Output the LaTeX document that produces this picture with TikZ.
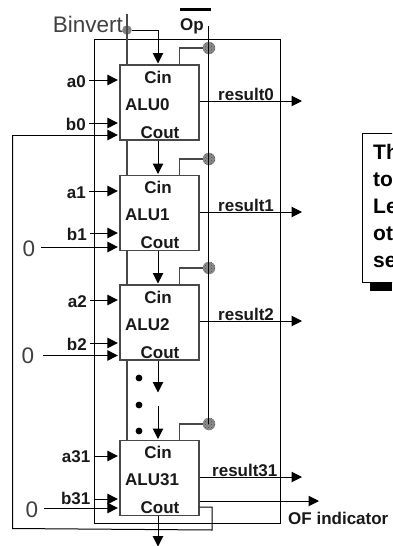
\documentclass[tikz,border=0pt]{standalone}
\usepackage{fontspec}
\setmainfont{Liberation Sans}
\usetikzlibrary{arrows.meta,patterns}
\definecolor{wire}{HTML}{484848}
\tikzset{
  alubox/.style={draw=wire,line width=1.3pt,fill=none,minimum width=79pt,minimum height=75pt,inner sep=0pt},
  boldlab/.style={font=\fontsize{17}{18}\selectfont\bfseries,text=black!90,inner sep=0pt,anchor=base},
  leftlab/.style={boldlab,anchor=base east},
  biglab/.style={font=\fontsize{22.5}{24}\selectfont,text=black!75,inner sep=0pt,anchor=base},
  arr/.style={-{Triangle[length=10.5pt,width=10.5pt]},line width=1pt,shorten >=1.5pt},
  bus/.style={wire,line width=1.5pt},
  taplink/.style={wire,line width=1.1pt},
  tap/.style={circle,fill=black!45,minimum size=12.5pt,inner sep=0pt,postaction={pattern=crosshatch dots,pattern color=black!70}},
  note/.style={font=\fontsize{21}{23}\selectfont\bfseries,inner sep=0pt,anchor=base west}
}
\begin{document}
\begin{tikzpicture}[x=1pt,y=-1pt]
\useasboundingbox (0,0) rectangle (392,546);
\clip (0,0) rectangle (392,546);
% outer box
\node[draw=black,line width=1pt,minimum width=186pt,minimum height=484.5pt,inner sep=0pt] (outer) at (187,281.25) {};
% ALUs
\node[alubox] (alu0) at (159.5,102.5) {};
\node[alubox] (alu1) at (159.5,213) {};
\node[alubox] (alu2) at (159.5,322.5) {};
\node[alubox] (alu31) at (159.5,478) {};
\foreach \n/\t/\l in {0/65/ALU0,1/175.5/ALU1,2/285/ALU2,31/440.5/ALU31}{
  \node[boldlab] (cin\n) at (158,\t+18) {Cin};
  \node[boldlab,anchor=base west] (name\n) at (125,\t+45) {\l};
  \node[boldlab] (cout\n) at (160,\t+73) {Cout};
}
% Binvert and Op
\node[biglab,anchor=base east] (binv) at (123,32) {Binvert};
\coordinate (binvtop) at (127,14);
\node[circle,fill=black!50,minimum size=9.5pt,inner sep=0pt] (bdot) at (127,30) {};
\node[boldlab] (op) at (192,30) {Op};
\coordinate (barl) at (180,9.5);
\coordinate (barr) at (211,9.5);
\draw[line width=2.4pt] (barl) -- (barr);
\coordinate (optop) at (208,26);
\node[tap] (tap0) at (209,48) {};
\node[tap] (tap1) at (209,159) {};
\node[tap] (tap2) at (209,268) {};
\node[tap] (tap31) at (209,424) {};
\draw[line width=1pt] (optop) -- (208,424);
\foreach \n in {0,1,2,31}{
  \draw[taplink] (tap\n.west) -| (alu\n.north -| 179.5,0);
}
% vertical bus
\draw[bus] (binvtop) -- (alu0.north -| binvtop);
\draw[bus] (alu0.south -| binvtop) -- (alu1.north -| binvtop);
\draw[bus] (alu1.south -| binvtop) -- (alu2.north -| binvtop);
\draw[bus] (alu2.south -| binvtop) -- (alu31.north -| binvtop);
% carry
\coordinate (c0) at (158,65);
\draw[arr] (bdot.east) -| (c0);
\draw[arr] (158,141) -- (158,175.5);
\draw[arr] (158,251) -- (158,285);
\coordinate (gapa) at (158,361);
\coordinate (gapb) at (158,394);
\coordinate (gapc) at (158,406);
\draw[arr] (gapa) -- (gapb);
\draw[arr] (gapc) -- (158,440.5);
\coordinate (bottom) at (158,546.5);
\draw[arr,shorten >=0pt] (158,515.5) -- (bottom);
\foreach \y in {378,405,431} \fill (139,\y) circle (3.4pt);
% inputs
\foreach \n/\lab/\nm/\xx/\yy/\by in {
  0/a0/a0/86/80/87, 0/b0/b0/86/123/130,
  1/a1/a1/86/191/198, 1/b1/b1/87/233/240,
  2/a2/a2/87/300/307, 2/b2/b2/87/343/350,
  31/a31/a31/90.5/456/462, 31/b31/b31/90.5/499/504}{
  \node[leftlab] (l\nm) at (\xx,\by) {\lab};
  \coordinate (s\nm) at (\xx+3,\yy);
  \draw[arr] (s\nm) -- (alu\n.west |- s\nm);
}
% zero inputs
\node[biglab] (z1) at (29,256) {0};
\coordinate (sz1) at (41,247);
\draw[arr] (sz1) -- (alu1.west |- sz1);
\node[biglab] (z2) at (28,363) {0};
\coordinate (sz2) at (43,355.5);
\draw[arr] (sz2) -- (alu2.west |- sz2);
\node[biglab] (z31) at (32,517) {0};
\coordinate (sz31) at (44,508);
\draw[arr] (sz31) -- (alu31.west |- sz31);
% results
\foreach \n/\y/\xl/\lab/\e in {0/101/218/result0/302,1/212/218/result1/302,2/321/218/result2/302,31/477/212/result31/302}{
  \node[boldlab,anchor=base west] (r\n) at (\xl,\y-.5) {\lab};
  \coordinate (e\n) at (\e,\y);
  \draw[arr,shorten >=0pt] (alu\n.east |- e\n) -- (e\n);
}
% overflow
\coordinate (ofend) at (319,501);
\draw[arr,shorten >=0pt] (alu31.east |- ofend) -- (ofend);
\node[boldlab,anchor=base west] (of) at (288,524) {OF indicator};
% feedback
\coordinate (fb1) at (212,507);
\coordinate (fb2) at (212,530);
\coordinate (fb3) at (12.5,528.5);
\coordinate (fb4) at (12.5,135);
\draw[line width=1pt] (alu31.east |- fb1) -- (fb1) -- (fb2) -- (fb3) -- (fb4);
\draw[arr] (fb4) -- (alu0.west |- fb4);
% note
\fill (370,282) rectangle (392,291);
\draw[line width=1pt,fill=white] (400,133) -- (362.5,133) -- (362.5,282) -- (400,282);
\node[note] (n1) at (373,159.5) {Th};
\node[note] (n2) at (373,186) {to};
\node[note] (n3) at (373,213) {Le};
\node[note] (n4) at (373,240) {ot};
\node[note] (n5) at (373,267) {se};
\end{tikzpicture}
\end{document}
